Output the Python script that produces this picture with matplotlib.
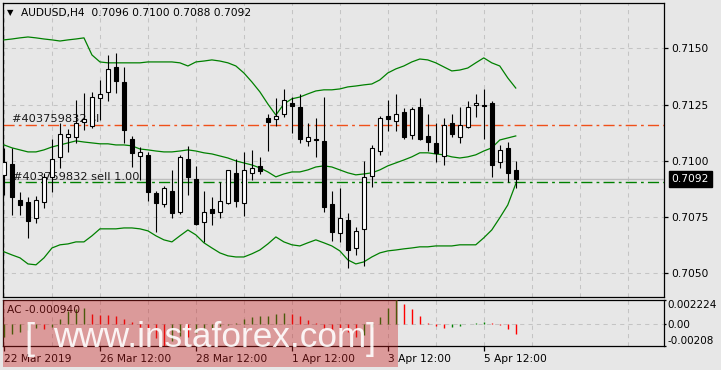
import matplotlib
matplotlib.use('Agg')
import matplotlib.pyplot as plt
import numpy as np
from matplotlib.patches import Rectangle
import matplotlib.transforms as mtransforms
from matplotlib import font_manager

plt.rcParams['font.family'] = ['DejaVu Sans']
plt.rcParams['lines.scale_dashes'] = False

# ---------------- data ----------------
symbol = 'AUDUSD,H4'
opens = [0.70938, 0.70987, 0.70827, 0.70818, 0.70747, 0.70818, 0.70929, 0.71018, 0.71107, 0.71107,
         0.71173, 0.71156, 0.71280, 0.71307, 0.71418, 0.71351, 0.71098, 0.71022, 0.71027, 0.70858,
         0.70809, 0.70867, 0.70773, 0.71009, 0.70920, 0.70729, 0.70787, 0.70773, 0.70813, 0.70947,
         0.70813, 0.70947, 0.70978, 0.71191, 0.71187, 0.71209, 0.71258, 0.71240, 0.71089, 0.71098,
         0.71089, 0.70809, 0.70680, 0.70738, 0.70613, 0.70698, 0.70933, 0.71044, 0.71200, 0.71178,
         0.71218, 0.71116, 0.71240, 0.71111, 0.71080, 0.71022, 0.71169, 0.71107, 0.71151, 0.71249,
         0.71249, 0.71258, 0.70996, 0.71058, 0.70960]
highs = [0.71058, 0.71058, 0.70862, 0.70840, 0.70844, 0.70947, 0.71098, 0.71169, 0.71142, 0.71271,
         0.71302, 0.71307, 0.71360, 0.71471, 0.71480, 0.71418, 0.71111, 0.71062, 0.71040, 0.70867,
         0.70889, 0.70960, 0.71027, 0.71067, 0.70978, 0.70867, 0.70840, 0.70907, 0.70960, 0.71009,
         0.71040, 0.71049, 0.71018, 0.71209, 0.71280, 0.71320, 0.71284, 0.71298, 0.71169, 0.71191,
         0.71284, 0.70867, 0.70880, 0.70769, 0.70707, 0.71000, 0.71071, 0.71200, 0.71271, 0.71298,
         0.71236, 0.71240, 0.71280, 0.71209, 0.71169, 0.71191, 0.71209, 0.71240, 0.71267, 0.71298,
         0.71320, 0.71267, 0.71071, 0.71084, 0.71000]
lows = [0.70849, 0.70760, 0.70760, 0.70658, 0.70724, 0.70791, 0.70862, 0.70969, 0.71040, 0.71080,
        0.71138, 0.71147, 0.71182, 0.71267, 0.71302, 0.71080, 0.70973, 0.70916, 0.70822, 0.70684,
        0.70796, 0.70747, 0.70764, 0.70849, 0.70716, 0.70640, 0.70716, 0.70747, 0.70809, 0.70796,
        0.70756, 0.70916, 0.70942, 0.71044, 0.71156, 0.71196, 0.71124, 0.71080, 0.71067, 0.71018,
        0.70773, 0.70644, 0.70640, 0.70524, 0.70582, 0.70533, 0.70884, 0.71027, 0.71133, 0.71133,
        0.71098, 0.71098, 0.71093, 0.71044, 0.70996, 0.70982, 0.71107, 0.71080, 0.71147, 0.71196,
        0.71098, 0.70929, 0.70969, 0.70907, 0.70880]
closes = [0.70996, 0.70840, 0.70804, 0.70733, 0.70827, 0.70929, 0.71009, 0.71120, 0.71120, 0.71169,
          0.71187, 0.71284, 0.71298, 0.71409, 0.71356, 0.71138, 0.71036, 0.71040, 0.70862, 0.70813,
          0.70880, 0.70769, 0.71018, 0.70929, 0.70720, 0.70773, 0.70769, 0.70822, 0.70960, 0.70822,
          0.70960, 0.70969, 0.70956, 0.71173, 0.71200, 0.71271, 0.71244, 0.71098, 0.71107, 0.71093,
          0.70796, 0.70684, 0.70747, 0.70604, 0.70689, 0.70929, 0.71058, 0.71191, 0.71187, 0.71209,
          0.71107, 0.71231, 0.71098, 0.71084, 0.71036, 0.71160, 0.71120, 0.71160, 0.71240, 0.71258,
          0.71244, 0.70982, 0.71049, 0.70947, 0.70920]
bb_upper = [0.71538, 0.71542, 0.71547, 0.71551, 0.71547, 0.71542, 0.71538, 0.71533, 0.71538, 0.71542,
            0.71547, 0.71471, 0.71440, 0.71436, 0.71436, 0.71436, 0.71436, 0.71436, 0.71440, 0.71440,
            0.71440, 0.71440, 0.71436, 0.71422, 0.71440, 0.71444, 0.71449, 0.71444, 0.71436, 0.71422,
            0.71391, 0.71351, 0.71307, 0.71253, 0.71204, 0.71253, 0.71276, 0.71284, 0.71298, 0.71311,
            0.71316, 0.71316, 0.71320, 0.71329, 0.71333, 0.71338, 0.71342, 0.71360, 0.71391, 0.71409,
            0.71422, 0.71440, 0.71453, 0.71449, 0.71436, 0.71418, 0.71400, 0.71404, 0.71413, 0.71436,
            0.71458, 0.71436, 0.71422, 0.71369, 0.71324]
bb_middle = [0.71071, 0.71058, 0.71049, 0.71040, 0.71040, 0.71049, 0.71062, 0.71071, 0.71080, 0.71089,
             0.71084, 0.71080, 0.71076, 0.71076, 0.71071, 0.71071, 0.71067, 0.71053, 0.71049, 0.71044,
             0.71040, 0.71040, 0.71044, 0.71049, 0.71044, 0.71036, 0.71031, 0.71022, 0.71013, 0.71000,
             0.70991, 0.70982, 0.70969, 0.70951, 0.70929, 0.70942, 0.70951, 0.70951, 0.70960, 0.70973,
             0.70978, 0.70973, 0.70960, 0.70947, 0.70938, 0.70942, 0.70947, 0.70960, 0.70978, 0.70991,
             0.71004, 0.71018, 0.71036, 0.71036, 0.71031, 0.71027, 0.71018, 0.71013, 0.71018, 0.71027,
             0.71044, 0.71058, 0.71093, 0.71102, 0.71111]
bb_lower = [0.70596, 0.70582, 0.70569, 0.70542, 0.70538, 0.70569, 0.70613, 0.70627, 0.70631, 0.70640,
            0.70640, 0.70667, 0.70698, 0.70698, 0.70698, 0.70702, 0.70702, 0.70698, 0.70689, 0.70667,
            0.70649, 0.70640, 0.70667, 0.70693, 0.70671, 0.70636, 0.70613, 0.70591, 0.70578, 0.70573,
            0.70573, 0.70587, 0.70604, 0.70631, 0.70662, 0.70640, 0.70627, 0.70622, 0.70636, 0.70649,
            0.70636, 0.70622, 0.70600, 0.70560, 0.70542, 0.70551, 0.70573, 0.70591, 0.70600, 0.70604,
            0.70609, 0.70613, 0.70618, 0.70618, 0.70622, 0.70622, 0.70622, 0.70627, 0.70627, 0.70627,
            0.70658, 0.70693, 0.70747, 0.70804, 0.70898]
ac_values = [-0.00121, -0.00093, -0.00075, -0.00056, -0.00037, -0.00047, -0.00028, 0.00047, 0.00121, 0.00140,
             0.00145, 0.00093, 0.00084, 0.00078, 0.00072, 0.00047, 0.00016, -0.00028, -0.00075, -0.00131,
             -0.00208, -0.00159, -0.00112, -0.00121, -0.00084, -0.00056, -0.00037, -0.00019, -0.00009, 0.00005,
             0.00047, 0.00063, 0.00072, 0.00075, 0.00093, 0.00103, 0.00093, 0.00072, 0.00037, 0.00009,
             -0.00047, -0.00063, -0.00072, -0.00078, -0.00121, -0.00109, -0.00031, 0.00063, 0.00150, 0.002224,
             0.00187, 0.00140, 0.00075, 0.00009, -0.00021, -0.00037, -0.00031, -0.00019, -0.00003, 0.00003,
             0.00014, 0.00005, -0.00016, -0.00047, -0.00094]
price_ticks = [0.7050, 0.7075, 0.7100, 0.7125, 0.7150]
date_positions = [0, 12, 24, 36, 48, 60]
date_labels = ['22 Mar 2019', '26 Mar 12:00', '28 Mar 12:00', '1 Apr 12:00', '3 Apr 12:00', '5 Apr 12:00']
bid_price = 0.7092
sell_price = 0.70907
sl_price = 0.71160
order_id = '#403759832'
ac_tick_values = [0.002224, 0.0, -0.00208]
ac_tick_labels = ['0.002224', '0.00', '-0.00208']

# ---------------- figure ----------------
W, H = 721, 370
bg = '#e7e7e7'
fig = plt.figure(figsize=(W / 100, H / 100), dpi=100)
fig.patch.set_facecolor(bg)


def px_axes(x0, y0, x1, y1):
    return fig.add_axes([x0 / W, 1 - y1 / H, (x1 - x0) / W, (y1 - y0) / H])


ax = px_axes(3, 3, 664, 297)
ax2 = px_axes(3, 300, 664, 346)

n = len(closes)
xs = np.arange(n)
xlim = (-0.125, 82.54)
FS = 7.7
grid_kw = dict(color='#c4c4c4', linestyle=(0, (3, 3)), linewidth=0.75)

for a in (ax, ax2):
    a.set_facecolor(bg)
    a.set_xlim(*xlim)
    for s in a.spines.values():
        s.set_color('black')
        s.set_linewidth(0.9)
    a.set_axisbelow(True)

# main chart
ax.set_ylim(0.70395, 0.71702)
ax.set_xticks(np.arange(0, 83, 6))
ax.tick_params(axis='x', length=0, labelbottom=False)
ax.yaxis.tick_right()
ax.set_yticks(price_ticks)
ax.set_yticklabels([f'{p:.4f}' for p in price_ticks])
ax.tick_params(axis='y', length=3, width=0.9, pad=2.2, labelsize=FS, colors='black')
ax.grid(True, **grid_kw)

# price / order lines
ax.axhline(bid_price, color='#bdbdbd', lw=1.0, zorder=1)
ax.axhline(sell_price, color='#008000', lw=1.0, ls=(0, (8, 3, 2, 3)), zorder=1.5)
ax.axhline(sl_price, color='#f0501a', lw=1.0, ls=(0, (8, 3, 2, 3)), zorder=1.5)

ax.annotate(order_id + ' sl', xy=(1.05, sl_price), xytext=(0, 2.3), textcoords='offset points',
            va='baseline', ha='left', fontsize=8.2, color='#1a1a1a', zorder=2)
ax.annotate(order_id + ' sell 1.00', xy=(1.1, sell_price), xytext=(0, 1.6), textcoords='offset points',
            va='baseline', ha='left', fontsize=8.2, color='#1a1a1a', zorder=2)

# bollinger bands
for band in (bb_upper, bb_middle, bb_lower):
    ax.plot(xs, band, color='#008000', lw=0.9, zorder=3)

# candles
bw = 0.55
ax.vlines(xs, lows, highs, colors='black', lw=0.8, zorder=4)
for i in range(n):
    o, c = opens[i], closes[i]
    bottom = min(o, c)
    h = abs(c - o)
    if h < 0.00003:
        ax.hlines((o + c) / 2, i - bw / 2, i + bw / 2, colors='black', lw=1.0, zorder=5)
        continue
    fc = 'white' if c > o else 'black'
    ax.add_patch(Rectangle((i - bw / 2, bottom), bw, h, facecolor=fc, edgecolor='black',
                           lw=0.8, zorder=5))

# current price label
bt = mtransforms.blended_transform_factory(ax.transAxes, ax.transData)
ax.annotate(f'{bid_price:.4f}', xy=(1.0, bid_price), xycoords=bt, xytext=(5.5, 0),
            textcoords='offset points', va='center', ha='left', fontsize=FS, color='white',
            bbox=dict(boxstyle='square,pad=0.25', facecolor='black', edgecolor='black'),
            annotation_clip=False, zorder=10)

# header
fig.text(6.5 / W, 1 - 13 / H, '\u25BC', fontsize=6, va='center', ha='left', color='black')
fig.text(21 / W, 1 - 13 / H,
         f'{symbol}  {opens[-1]:.4f} {highs[-1]:.4f} {lows[-1]:.4f} {closes[-1]:.4f}',
         fontsize=FS, va='center', ha='left', color='black')

# ---------------- AC subwindow ----------------
ac = np.array(ac_values)
ax2.set_ylim(ac.min(), ac.max())
cols = ['#008000'] + ['#008000' if ac[i] > ac[i - 1] else '#ff0000' for i in range(1, n)]
ax2.vlines(xs, 0, ac, colors=cols, lw=1.0, zorder=3)
ax2.axhline(0, **grid_kw)
ax2.set_xticks(date_positions)
ax2.set_xticklabels(date_labels)
ax2.set_xticks(np.arange(6, 83, 12), minor=True)
ax2.tick_params(axis='x', which='major', length=3.5, width=0.9, pad=2.5, labelsize=FS, colors='black')
ax2.tick_params(axis='x', which='minor', length=0)
for lbl in ax2.get_xticklabels():
    lbl.set_ha('left')
ax2.grid(True, axis='x', which='both', **grid_kw)
ax2.yaxis.tick_right()
ax2.set_yticks(ac_tick_values)
ax2.set_yticklabels(ac_tick_labels)
ax2.tick_params(axis='y', length=1.5, width=0.9, pad=1.2, labelsize=7.5, colors='black')
ylbls = ax2.get_yticklabels()
ylbls[0].set_va('top')
ylbls[-1].set_va('bottom')
ax2.annotate(f'AC {ac_values[-1]:.6f}', xy=(0, 1), xycoords='axes fraction', xytext=(3, -3.5),
             textcoords='offset points', va='top', ha='left', fontsize=FS, color='black')

# ---------------- watermark ----------------
fig.patches.append(Rectangle((3 / W, 1 - 367 / H), (398 - 3) / W, (367 - 300) / H,
                             transform=fig.transFigure, facecolor='#c81e1e', alpha=0.38,
                             edgecolor='none', zorder=5))
avail = {f.name for f in font_manager.fontManager.ttflist}
wm_font = 'Liberation Sans Narrow' if 'Liberation Sans Narrow' in avail else 'Liberation Sans'
wm = fig.text(53 / W, 1 - 347 / H, 'www.instaforex.com', fontsize=30, family=wm_font,
              color='white', alpha=0.9, va='baseline', ha='left', zorder=6)
rend = fig.canvas.get_renderer()
bbx = wm.get_window_extent(rend)
wm.set_fontsize(30 * 312 / bbx.width)
fig.text(24 / W, 1 - 349 / H, '[', fontsize=26, family=wm_font, color='white', alpha=0.9,
         va='baseline', ha='left', zorder=6)
fig.text(366 / W, 1 - 349 / H, ']', fontsize=26, family=wm_font, color='white', alpha=0.9,
         va='baseline', ha='left', zorder=6)

fig.savefig('out.png', dpi=100, facecolor=bg)
